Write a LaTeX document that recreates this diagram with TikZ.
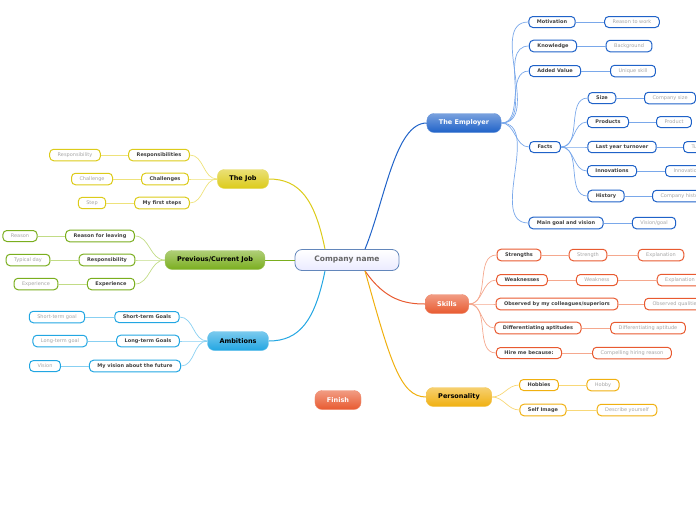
\documentclass[tikz,border=0pt]{standalone}
\usepackage{fontspec}
\setmainfont{DejaVu Sans}
\usetikzlibrary{calc}
\definecolor{cblue}{HTML}{1F62C8}
\definecolor{cbluel}{HTML}{7AA8EA}
\definecolor{cred}{HTML}{E85A30}
\definecolor{credl}{HTML}{F5A88E}
\definecolor{cyel}{HTML}{DCCB1A}
\definecolor{cyell}{HTML}{EEE27A}
\definecolor{cgrn}{HTML}{7AAE1E}
\definecolor{cgrnl}{HTML}{C2DC86}
\definecolor{ccya}{HTML}{22A6E2}
\definecolor{ccyal}{HTML}{88D0F2}
\definecolor{camb}{HTML}{F0B010}
\definecolor{cambl}{HTML}{F8D878}
\tikzset{
  sub/.style={draw=#1, line width=1pt, rounded corners=4pt, fill=white, inner xsep=8pt, minimum height=11pt, font=\fontsize{5}{6}\selectfont\bfseries, text=black!75},
  leaf/.style={sub=#1, text=black!35, font=\fontsize{5}{6}\selectfont},
  topic/.style={rounded corners=7pt, top color=#1!60, bottom color=#1, draw=#1!70, minimum height=19pt, inner xsep=12pt, font=\fontsize{6.5}{8}\selectfont\bfseries},
  link/.style={draw=#1, line width=0.7pt},
}
\begin{document}
\begin{tikzpicture}[x=1pt, y=-1pt]
\useasboundingbox (0,0) rectangle (696,520);
% centre
\node[rounded corners=7pt, top color=white, bottom color=blue!8, draw=cbluel!80!black, line width=0.8pt, minimum width=104pt, minimum height=21pt, font=\fontsize{7.5}{9}\selectfont\bfseries, text=black!60] (cn) at (347,260) {Company name};

% main topics
\node[topic=cblue, text=white] (emp) at (464,123) {The Employer};
\node[topic=cred, text=white] (skl) at (447,304) {Skills};
\node[topic=camb, text=black] (per) at (459,397) {Personality};
\node[topic=cred, text=white] (fin) at (338,400) {Finish};
\node[topic=cyel, text=black] (job) at (243,179) {The Job};
\node[topic=cgrn, text=black] (prv) at (215,260) {Previous/Current Job};
\node[topic=ccya, text=black] (amb) at (238,341) {Ambitions};

\draw[link=cblue, line width=1pt] ([xshift=18]cn.north) .. controls (385,200) and (395,123) .. (emp.west);
\draw[link=cred, line width=1pt] ([xshift=18]cn.south) .. controls (385,300) and (405,304) .. (skl.west);
\draw[link=camb, line width=1pt] ([xshift=18]cn.south) .. controls (390,360) and (400,397) .. (per.west);
\draw[link=cyel, line width=1pt] ([xshift=-22]cn.north) .. controls (315,200) and (300,179) .. (job.east);
\draw[link=cgrn, line width=1pt] (cn.west) -- (prv.east);
\draw[link=ccya, line width=1pt] ([xshift=-22]cn.south) .. controls (315,320) and (300,341) .. (amb.east);

% the employer
\node[sub=cblue] (mot) at (552,22) {Motivation};
\node[sub=cblue] (kno) at (553,46) {Knowledge};
\node[sub=cblue] (add) at (555,71) {Added Value};
\node[sub=cblue] (fac) at (545,147) {Facts};
\node[sub=cblue] (mgv) at (566,223) {Main goal and vision};
\node[leaf=cblue] (motl) at (632,22) {Reason to work};
\node[leaf=cblue] (knol) at (629,46) {Background};
\node[leaf=cblue] (addl) at (633,71) {Unique skill};
\node[leaf=cblue] (mgvl) at (654,223) {Vision/goal};
\node[sub=cblue] (siz) at (602,98) {Size};
\node[sub=cblue] (pro) at (608,122) {Products};
\node[sub=cblue] (tur) at (622,147) {Last year turnover};
\node[sub=cblue] (inn) at (612,171) {Innovations};
\node[sub=cblue] (his) at (606,196) {History};
\node[leaf=cblue, anchor=west] (sizl) at (644,98) {Company size};
\node[leaf=cblue, anchor=west] (prol) at (656,122) {Product};
\node[leaf=cblue, anchor=west] (turl) at (683,147) {Turnover};
\node[leaf=cblue, anchor=west] (innl) at (665,171) {Innovation};
\node[leaf=cblue, anchor=west] (hisl) at (652,196) {Company history};
\foreach \c in {mot,kno,add,fac,mgv}
  \draw[link=cbluel] (emp.east) to[out=0,in=180] (\c.west);
\foreach \c in {siz,pro,tur,inn,his}
  \draw[link=cbluel] (fac.east) to[out=0,in=180] (\c.west);
\foreach \c in {mot,kno,add,mgv,siz,pro,tur,inn,his}
  \draw[link=cbluel] (\c.east) -- (\c l.west);

% skills
\node[sub=cred] (str) at (519,255) {Strengths};
\node[sub=cred] (wea) at (522,280) {Weaknesses};
\node[sub=cred] (obs) at (557,304) {Observed by my colleagues/superiors};
\node[sub=cred] (dif) at (538,328) {Differentiating aptitudes};
\node[sub=cred] (hir) at (529,353) {Hire me because:};
\node[leaf=cred] (strl) at (588,255) {Strength};
\node[leaf=cred] (weal) at (597,280) {Weakness};
\node[leaf=cred, anchor=west] (obsl) at (644,304) {Observed qualities};
\node[leaf=cred] (difl) at (648,328) {Differentiating aptitude};
\node[leaf=cred] (hirl) at (632,353) {Compelling hiring reason};
\node[leaf=cred] (strm) at (661,255) {Explanation};
\node[leaf=cred] (weam) at (680,280) {Explanation};
\foreach \c in {str,wea,obs,dif,hir}
  \draw[link=credl] (skl.east) to[out=0,in=180] (\c.west);
\foreach \c in {str,wea,obs,dif,hir}
  \draw[link=credl] (\c.east) -- (\c l.west);
\foreach \c in {str,wea}
  \draw[link=credl] (\c l.east) -- (\c m.west);

% personality
\node[sub=camb] (hob) at (539,385) {Hobbies};
\node[sub=camb] (sel) at (543,410) {Self Image};
\node[leaf=camb] (hobl) at (603,385) {Hobby};
\node[leaf=camb] (sell) at (627,410) {Describe yourself};
\foreach \c in {hob,sel}{
  \draw[link=cambl] (per.east) to[out=0,in=180] (\c.west);
  \draw[link=cambl] (\c.east) -- (\c l.west);
}

% the job
\node[sub=cyel] (res) at (159,155) {Responsibilities};
\node[sub=cyel] (cha) at (165,179) {Challenges};
\node[sub=cyel] (fst) at (162,203) {My first steps};
\node[leaf=cyel] (resl) at (75,155) {Responsibility};
\node[leaf=cyel] (chal) at (92,179) {Challenge};
\node[leaf=cyel] (fstl) at (92,203) {Step};
\foreach \c in {res,cha,fst}{
  \draw[link=cyell] (job.west) to[out=180,in=0] (\c.east);
  \draw[link=cyell] (\c.west) -- (\c l.east);
}

% previous job
\node[sub=cgrn] (rea) at (100,236) {Reason for leaving};
\node[sub=cgrn] (rsp) at (107,260) {Responsibility};
\node[sub=cgrn] (exp) at (111,284) {Experience};
\node[leaf=cgrn] (real) at (20,236) {Reason};
\node[leaf=cgrn] (rspl) at (28,260) {Typical day};
\node[leaf=cgrn] (expl) at (36,284) {Experience};
\foreach \c in {rea,rsp,exp}{
  \draw[link=cgrnl] (prv.west) to[out=180,in=0] (\c.east);
  \draw[link=cgrnl] (\c.west) -- (\c l.east);
}

% ambitions
\node[sub=ccya] (sho) at (147,317) {Short-term Goals};
\node[sub=ccya] (lon) at (148,341) {Long-term Goals};
\node[sub=ccya] (vis) at (135,366) {My vision about the future};
\node[leaf=ccya] (shol) at (57,317) {Short-term goal};
\node[leaf=ccya] (lonl) at (60,341) {Long-term goal};
\node[leaf=ccya] (visl) at (45,366) {Vision};
\foreach \c in {sho,lon,vis}{
  \draw[link=ccyal] (amb.west) to[out=180,in=0] (\c.east);
  \draw[link=ccyal] (\c.west) -- (\c l.east);
}
\end{tikzpicture}
\end{document}
